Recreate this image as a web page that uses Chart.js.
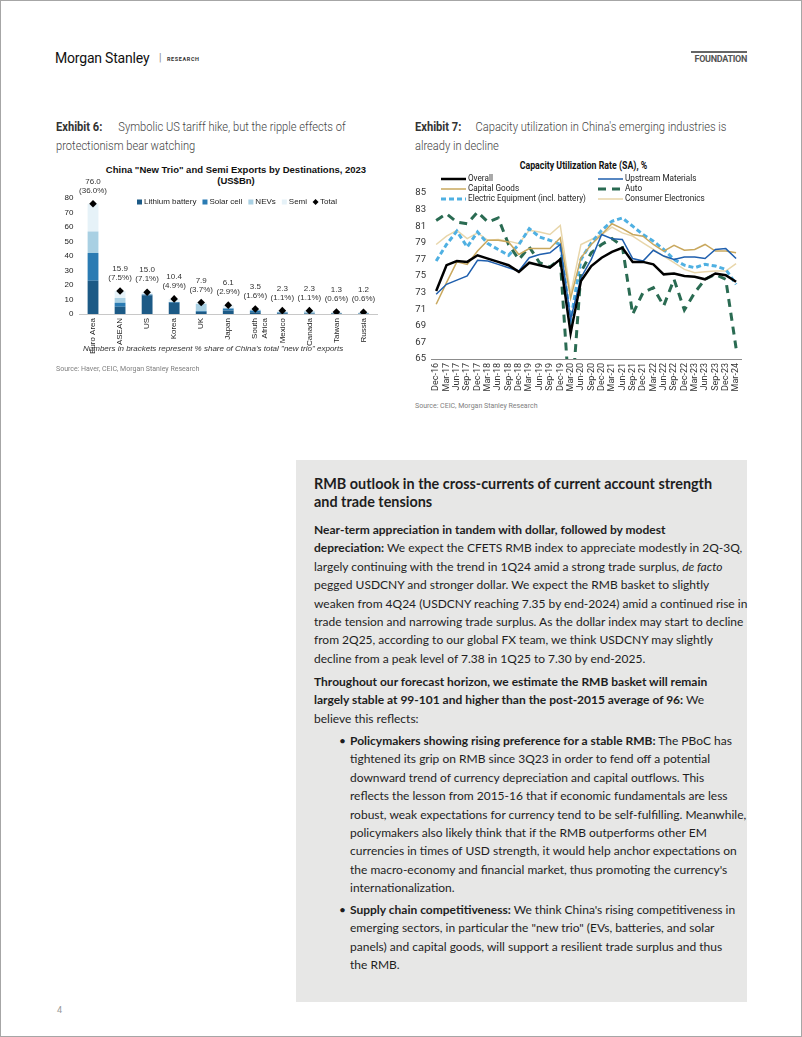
<!DOCTYPE html>
<html>
<head>
<meta charset="utf-8">
<script src="https://cdn.jsdelivr.net/npm/chart.js@4.4.1/dist/chart.umd.min.js"></script>
<style>
  body { margin: 0; background: #fff; }
  .page { position: relative; box-sizing: border-box; width: 802px; height: 1037px; border: 1px solid #a6a6a6; overflow: hidden; font-family: Roboto, sans-serif; }
  .abs { position: absolute; white-space: nowrap; }
  .narrow { transform: scaleX(0.89); transform-origin: left top; }
  .cap { font-family: Roboto, sans-serif; font-weight: 300; font-size: 12.5px; color: #444; line-height: 19px; }
  .capb { font-family: Roboto, sans-serif; font-weight: 700; font-size: 12.5px; color: #333; line-height: 19px; }
  .src { font-family: Roboto, sans-serif; font-size: 7px; color: #808080; }
  .box { position: absolute; left: 295px; top: 459px; width: 451px; height: 542px; background: #e7e7e6; }
  .box .t { position: absolute; left: 18px; white-space: nowrap; font-family: Lato, sans-serif; color: #1e1e1e; }
  .box .h { font-size: 14.4px; font-weight: 700; line-height: 18px; }
  .box .p { font-size: 12px; line-height: 18.4px; }
  .box .p b { font-weight: 700; }
  .box .ind { left: 54px; }
  .bul { position: absolute; left: -11px; }
</style>
</head>
<body>
<div class="page">
  <div class="abs" style="left:54px; top:49px; font-size:14px; letter-spacing:-0.2px; color:#111;">Morgan Stanley</div>
  <div class="abs" style="left:158px; top:51px; font-size:10px; color:#888;">|</div>
  <div class="abs" style="left:166px; top:55px; font-size:5.5px; font-weight:700; letter-spacing:0.6px; color:#333;">RESEARCH</div>
  <div class="abs" style="left:690px; top:50px; width:56px; border-top:2px solid #666;"></div>
  <div class="abs" style="left:690px; top:53px; width:56px; text-align:right; font-size:9px; font-weight:700; color:#555; letter-spacing:-0.3px;">FOUNDATION</div>

  <div class="abs capb narrow" style="left:55px; top:116px;">Exhibit 6:</div>
  <div class="abs cap narrow" style="left:55px; top:116px; text-indent:70px;">Symbolic US tariff hike, but the ripple effects of<br>protectionism bear watching</div>
  <div class="abs capb narrow" style="left:414px; top:116px;">Exhibit 7:</div>
  <div class="abs cap narrow" style="left:414px; top:116px; text-indent:68px;">Capacity utilization in China's emerging industries is<br>already in decline</div>

  <div class="abs" style="left:55px; top:163px; width:360px; text-align:center; font-family:'Liberation Sans', Arial, sans-serif; font-size:9.5px; font-weight:700; line-height:11px; color:#111;">China "New Trio" and Semi Exports by Destinations, 2023<br>(US$Bn)</div>
  <div class="abs" style="left:482px; top:159px; width:200px; text-align:center; font-size:10px; font-weight:700; color:#111;"><span style="display:inline-block; transform:scaleX(0.88);">Capacity Utilization Rate (SA), %</span></div>

  <canvas id="tradeChart" width="325" height="200" style="position:absolute; left:55px; top:160px;"></canvas>
  <canvas id="capChart" width="340" height="245" style="position:absolute; left:410px; top:155px;"></canvas>

  <div class="abs" style="left:82px; top:343px; font-family:'Liberation Sans', Arial, sans-serif; font-size:8px; font-style:italic; color:#333;">Numbers in brackets represent % share of China's total "new trio" exports</div>
  <div class="abs src" style="left:55px; top:364px;">Source: Haver, CEIC, Morgan Stanley Research</div>
  <div class="abs src" style="left:414px; top:401px;">Source: CEIC, Morgan Stanley Research</div>

  <div class="box">
    <div class="t h" style="top:15px;">RMB outlook in the cross-currents of current account strength<br>and trade tensions</div>
    <div class="t p" style="top:61px;"><b>Near-term appreciation in tandem with dollar, followed by modest</b><br><b>depreciation:</b> We expect the CFETS RMB index to appreciate modestly in 2Q-3Q,<br>largely continuing with the trend in 1Q24 amid a strong trade surplus, <i>de facto</i><br>pegged USDCNY and stronger dollar. We expect the RMB basket to slightly<br>weaken from 4Q24 (USDCNY reaching 7.35 by end-2024) amid a continued rise in<br>trade tension and narrowing trade surplus. As the dollar index may start to decline<br>from 2Q25, according to our global FX team, we think USDCNY may slightly<br>decline from a peak level of 7.38 in 1Q25 to 7.30 by end-2025.</div>
    <div class="t p" style="top:213px;"><b>Throughout our forecast horizon, we estimate the RMB basket will remain</b><br><b>largely stable at 99-101 and higher than the post-2015 average of 96:</b> We<br>believe this reflects:</div>
    <div class="t p ind" style="top:272px;"><span class="bul">&bull;</span><b>Policymakers showing rising preference for a stable RMB:</b> The PBoC has<br>tightened its grip on RMB since 3Q23 in order to fend off a potential<br>downward trend of currency depreciation and capital outflows. This<br>reflects the lesson from 2015-16 that if economic fundamentals are less<br>robust, weak expectations for currency tend to be self-fulfilling. Meanwhile,<br>policymakers also likely think that if the RMB outperforms other EM<br>currencies in times of USD strength, it would help anchor expectations on<br>the macro-economy and financial market, thus promoting the currency's<br>internationalization.</div>
    <div class="t p ind" style="top:441px;"><span class="bul">&bull;</span><b>Supply chain competitiveness:</b> We think China's rising competitiveness in<br>emerging sectors, in particular the "new trio" (EVs, batteries, and solar<br>panels) and capital goods, will support a resilient trade surplus and thus<br>the RMB.</div>
  </div>

  <div class="abs" style="left:56px; top:1004px; font-size:9px; color:#999;">4</div>
</div>

<script>
// Exhibit 6 data (US$bn)
const destinations = ['Euro Area', 'ASEAN', 'US', 'Korea', 'UK', 'Japan', ['South', 'Africa'], 'Mexico', 'Canada', 'Taiwan', 'Russia'];
const lithium = [23.0, 5.0, 13.0, 7.8, 1.6, 2.5, 1.2, 0.6, 0.3, 0.3, 0.2];
const solar = [19.1, 2.7, 0.5, 0.5, 0.4, 1.3, 1.3, 0.5, 0.2, 0.3, 0.1];
const nevs = [14.8, 3.4, 0.0, 0.0, 4.9, 0.2, 0.0, 0.2, 1.3, 0.0, 0.4];
const semi = [19.1, 4.8, 1.5, 2.1, 1.0, 2.1, 1.0, 1.0, 0.5, 0.7, 0.5];
const totals = [76.0, 15.9, 15.0, 10.4, 7.9, 6.1, 3.5, 2.3, 2.3, 1.3, 1.2];
const trioShare = [36.0, 7.5, 7.1, 4.9, 3.7, 2.9, 1.6, 1.1, 1.1, 0.6, 0.6];

// Exhibit 7 data (%)
const quarters = ['Dec-16', 'Mar-17', 'Jun-17', 'Sep-17', 'Dec-17', 'Mar-18', 'Jun-18', 'Sep-18', 'Dec-18', 'Mar-19',
    'Jun-19', 'Sep-19', 'Dec-19', 'Mar-20', 'Jun-20', 'Sep-20', 'Dec-20', 'Mar-21', 'Jun-21', 'Sep-21',
    'Dec-21', 'Mar-22', 'Jun-22', 'Sep-22', 'Dec-22', 'Mar-23', 'Jun-23', 'Sep-23', 'Dec-23', 'Mar-24'];
const overall = [73.2, 76.3, 76.8, 76.7, 77.5, 77.1, 76.7, 76.3, 75.5, 76.6, 76.3, 76.0, 77.0, 68.1, 74.4, 76.2, 77.2, 77.9, 78.4, 76.7, 76.7, 76.4, 75.2, 75.3, 75.0, 74.9, 74.6, 75.3, 75.1, 74.3];
const upstream = [72.8, 74.0, 74.5, 75.0, 76.9, 76.8, 76.4, 76.0, 75.6, 77.2, 77.6, 77.8, 78.8, 69.8, 74.8, 77.0, 80.0, 79.5, 79.4, 77.1, 76.8, 78.1, 77.4, 77.0, 77.3, 77.3, 77.1, 78.2, 78.3, 77.1];
const capitalGoods = [71.6, 74.2, 76.7, 76.4, 78.0, 79.3, 79.3, 79.1, 77.6, 78.3, 78.3, 78.3, 79.6, 72.3, 77.2, 78.8, 80.0, 81.3, 80.7, 80.0, 79.8, 78.8, 78.0, 78.7, 78.1, 78.2, 78.8, 78.0, 78.0, 77.8];
const autoSector = [81.7, 82.5, 81.5, 81.3, 82.7, 81.5, 82.0, 78.8, 77.0, 78.5, 76.6, 76.1, 77.0, 58.0, 75.5, 77.8, 78.8, 79.5, 78.6, 70.4, 73.0, 73.6, 71.4, 74.6, 70.9, 73.0, 74.6, 75.2, 74.6, 66.3];
const electricEquip = [76.8, 78.8, 80.4, 78.5, 80.3, 78.9, 78.2, 77.5, 78.8, 80.7, 79.7, 79.3, 78.8, 69.6, 77.0, 79.0, 80.5, 81.6, 82.0, 81.0, 80.0, 79.2, 78.2, 77.0, 76.3, 76.0, 76.4, 76.2, 75.8, 74.0];
const consumerElec = [78.8, 79.8, 80.5, 79.5, 80.2, 79.3, 79.4, 79.2, 78.9, 80.5, 80.3, 80.0, 81.1, 72.8, 78.8, 79.4, 80.0, 80.9, 80.2, 79.8, 79.0, 78.2, 77.4, 76.6, 75.8, 75.4, 75.5, 75.6, 75.6, 76.5];

const ARIAL = "'Liberation Sans', Arial, sans-serif";
const ROBOTO = "Roboto, sans-serif";

// legend in one row, drawn inside the plot
const rowLegend = {
    id: 'rowLegend',
    afterDraw(chart, args, opts) {
        const ctx = chart.ctx;
        ctx.save();
        ctx.font = `8px ${ARIAL}`;
        ctx.textBaseline = 'middle';
        let x = opts.x;
        const y = opts.y;
        chart.data.datasets.forEach(ds => {
            ctx.fillStyle = ds.backgroundColor;
            if (ds.type === 'line') {
                ctx.beginPath();
                ctx.moveTo(x + 2.5, y - 3); ctx.lineTo(x + 5.5, y); ctx.lineTo(x + 2.5, y + 3); ctx.lineTo(x - 0.5, y);
                ctx.closePath(); ctx.fill();
            } else {
                ctx.fillRect(x, y - 2.5, 5, 5);
            }
            ctx.fillStyle = '#222';
            ctx.fillText(ds.label, x + 7, y);
            x += 7 + ctx.measureText(ds.label).width + opts.gap;
        });
        ctx.restore();
    }
};

// value + share labels over the totals
const totalLabels = {
    id: 'totalLabels',
    afterDatasetsDraw(chart) {
        const idx = chart.data.datasets.findIndex(d => d.label === 'Total');
        const meta = chart.getDatasetMeta(idx);
        const ctx = chart.ctx;
        ctx.save();
        ctx.font = `8px ${ARIAL}`;
        ctx.fillStyle = '#333';
        ctx.textAlign = 'center';
        ctx.textBaseline = 'middle';
        meta.data.forEach((pt, i) => {
            ctx.fillText(totals[i].toFixed(1), pt.x, pt.y - 22);
            ctx.fillText(`(${trioShare[i].toFixed(1)}%)`, pt.x, pt.y - 13);
        });
        ctx.restore();
    }
};

new Chart(document.getElementById('tradeChart'), {
    type: 'bar',
    data: {
        labels: destinations,
        datasets: [
            { label: 'Lithium battery', data: lithium, backgroundColor: '#1c5a86', stack: 'trio' },
            { label: 'Solar cell', data: solar, backgroundColor: '#2a7bb3', stack: 'trio' },
            { label: 'NEVs', data: nevs, backgroundColor: '#a9d0e3', stack: 'trio' },
            { label: 'Semi', data: semi, backgroundColor: '#e6f2f8', stack: 'trio' },
            { label: 'Total', type: 'line', data: totals, showLine: false, stack: 'total', order: -1,
              pointStyle: 'rectRot', pointRadius: 3.8, backgroundColor: '#000', borderColor: '#000', borderWidth: 0 }
        ]
    },
    options: {
        responsive: false,
        animation: false,
        barPercentage: 0.4,
        categoryPercentage: 1,
        layout: { padding: { top: 37, right: 2, left: 0, bottom: 0 } },
        plugins: {
            legend: { display: false },
            tooltip: { enabled: false },
            rowLegend: { x: 81, y: 41, gap: 6 }
        },
        scales: {
            x: {
                stacked: true,
                grid: { display: false, drawTicks: false },
                border: { color: '#c8c8c8' },
                ticks: { autoSkip: false, maxRotation: 90, minRotation: 90, padding: 4, color: '#222', font: { family: ARIAL, size: 8 } },
                afterFit: s => { s.height = 47; }
            },
            y: {
                stacked: true,
                min: 0, max: 80,
                grid: { display: false, drawTicks: false },
                border: { display: false },
                ticks: { stepSize: 10, padding: 6, color: '#222', font: { family: ARIAL, size: 8 } },
                afterFit: s => { s.width = 23.5; }
            }
        }
    },
    plugins: [rowLegend, totalLabels]
});

// legend in two columns, filled row by row
const gridLegend = {
    id: 'gridLegend',
    afterDraw(chart, args, opts) {
        const ctx = chart.ctx;
        ctx.save();
        ctx.font = `9.5px ${ROBOTO}`;
        ctx.textBaseline = 'middle';
        chart.data.datasets.forEach((ds, i) => {
            const x = opts.cols[i % 2];
            const y = opts.top + Math.floor(i / 2) * opts.rowH;
            ctx.strokeStyle = ds.borderColor;
            ctx.lineWidth = ds.borderWidth;
            ctx.setLineDash(ds.borderDash || []);
            ctx.beginPath();
            ctx.moveTo(x, y); ctx.lineTo(x + 25, y);
            ctx.stroke();
            ctx.save();
            ctx.translate(x + 27, y);
            ctx.scale(0.86, 1);
            ctx.fillStyle = '#222';
            ctx.fillText(ds.label, 0, 0);
            ctx.restore();
        });
        ctx.restore();
    }
};

const lineDs = (label, data, color, width, dash) => ({
    label, data, borderColor: color, backgroundColor: color, borderWidth: width,
    borderDash: dash, pointRadius: 0, tension: 0, fill: false
});

new Chart(document.getElementById('capChart'), {
    type: 'line',
    data: {
        labels: quarters,
        datasets: [
            lineDs('Overall', overall, '#000000', 2.5, []),
            lineDs('Upstream Materials', upstream, '#1f5fae', 1.5, []),
            lineDs('Capital Goods', capitalGoods, '#c9a85e', 1.5, []),
            lineDs('Auto', autoSector, '#2a6b52', 3, [8, 6]),
            lineDs('Electric Equipment (incl. battery)', electricEquip, '#4fb0e2', 3, [5, 3]),
            lineDs('Consumer Electronics', consumerElec, '#e8d6aa', 1.5, [])
        ]
    },
    options: {
        responsive: false,
        animation: false,
        layout: { padding: { top: 37, right: 7, left: 0, bottom: 0 } },
        plugins: {
            legend: { display: false },
            tooltip: { enabled: false },
            gridLegend: { cols: [30, 187], top: 23, rowH: 10 }
        },
        scales: {
            x: {
                offset: true,
                grid: { display: false, drawTicks: false },
                border: { color: '#8c8c8c' },
                ticks: { autoSkip: false, maxRotation: 90, minRotation: 90, padding: 4, color: '#333', font: { family: ROBOTO, size: 9 } },
                afterFit: s => { s.height = 42; }
            },
            y: {
                min: 65, max: 85,
                grid: { display: false, drawTicks: false },
                border: { display: false },
                ticks: { stepSize: 2, padding: 5, color: '#333', font: { family: ROBOTO, size: 9.5 } },
                afterFit: s => { s.width = 20; }
            }
        }
    },
    plugins: [gridLegend]
});
</script>
</body>
</html>
